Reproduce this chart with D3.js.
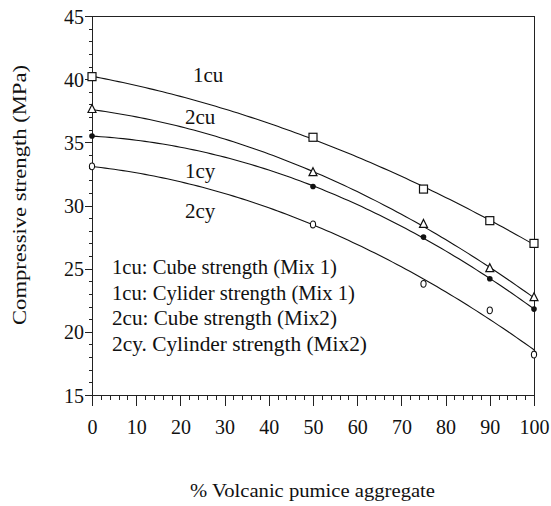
<!DOCTYPE html>
<meta charset="utf-8">
<svg width="551" height="506" style="position:absolute;left:0;top:0"></svg>
<script src="https://cdnjs.cloudflare.com/ajax/libs/d3/7.8.5/d3.min.js"></script>
<script>

// % volcanic pumice aggregate
var pumice = [0, 50, 75, 90, 100];

// compressive strength (MPa)
var cu1 = [40.2, 35.4, 31.3, 28.8, 27.0];
var cu2 = [37.6, 32.6, 28.5, 25.0, 22.7];
var cy1 = [35.5, 31.5, 27.5, 24.2, 21.8];
var cy2 = [33.1, 28.5, 23.8, 21.7, 18.2];

var seriesNames = ["1cu", "2cu", "1cy", "2cy"];
var seriesValues = [cu1, cu2, cy1, cy2];
var seriesMarks = ["square", "triangle", "dot", "circle"];

var xTicks = [0, 10, 20, 30, 40, 50, 60, 70, 80, 90, 100];
var yTicks = [15, 20, 25, 30, 35, 40, 45];

var legendLines = [
  "1cu: Cube strength (Mix 1)",
  "1cu: Cylider strength (Mix 1)",
  "2cu: Cube strength (Mix2)",
  "2cy. Cylinder strength (Mix2)"
];

var svg = d3.select("svg"),
    margin = {top: 16, left: 92},
    width = 534 - margin.left,
    height = 395 - margin.top;

var g = svg.append("g")
    .attr("transform", "translate(" + margin.left + "," + margin.top + ")");

var x = d3.scaleLinear().domain([0, 100]).range([0, width]),
    y = d3.scaleLinear().domain([15, 45]).range([height, 0]);

function serifText(sel, size) {
  sel.attr("font-family", "Liberation Serif")
     .style("font-size", size + "px")
     .style("font-family", "'Liberation Serif'")
     .attr("fill", "#111");
}

function styleAxis(a) {
  a.attr("font-family", null).attr("font-size", null);
  a.selectAll("line, path").attr("stroke", "#222").attr("shape-rendering", "crispEdges");
  a.selectAll("text").call(serifText, 20);
}

// x axis with minor ticks every 2
g.append("g")
    .attr("transform", "translate(0," + height + ")")
    .call(d3.axisBottom(x).tickValues(d3.range(0, 101, 2)).tickSize(5).tickFormat(""))
    .call(function(a) { a.select(".domain").remove(); })
    .call(styleAxis);
g.append("g")
    .attr("transform", "translate(0," + height + ")")
    .call(d3.axisBottom(x).tickValues(xTicks).tickSize(11).tickSizeOuter(0).tickPadding(22))
    .call(styleAxis)
    .selectAll("text")
      .attr("dy", "0.3em");

// y axis with minor ticks every 1
g.append("g")
    .call(d3.axisLeft(y).tickValues(d3.range(15, 46, 1)).tickSize(3).tickFormat(""))
    .call(function(a) { a.select(".domain").remove(); })
    .call(styleAxis);
g.append("g")
    .call(d3.axisLeft(y).tickValues(yTicks).tickSize(7).tickSizeOuter(0).tickPadding(1))
    .call(styleAxis)
    .selectAll("text")
      .attr("dy", "0.35em");

// top and right frame
g.append("path")
    .attr("d", "M0,0H" + width + "V" + height)
    .attr("fill", "none")
    .attr("stroke", "#222")
    .attr("shape-rendering", "crispEdges");

// quadratic least-squares trend line
function quadFit(xs, ys) {
  var s = [0, 0, 0, 0, 0], t = [0, 0, 0];
  xs.forEach(function(xi, i) {
    for (var k = 0; k < 5; k++) s[k] += Math.pow(xi, k);
    for (var k = 0; k < 3; k++) t[k] += ys[i] * Math.pow(xi, k);
  });
  var A = [[s[0], s[1], s[2], t[0]], [s[1], s[2], s[3], t[1]], [s[2], s[3], s[4], t[2]]];
  for (var c = 0; c < 3; c++) {
    for (var r = c + 1; r < 3; r++) {
      var f = A[r][c] / A[c][c];
      for (var k = c; k < 4; k++) A[r][k] -= f * A[c][k];
    }
  }
  var b = [0, 0, 0];
  for (var r = 2; r >= 0; r--) {
    var v = A[r][3];
    for (var k = r + 1; k < 3; k++) v -= A[r][k] * b[k];
    b[r] = v / A[r][r];
  }
  return function(xv) { return b[0] + b[1] * xv + b[2] * xv * xv; };
}

var line = d3.line()
    .x(function(d) { return x(d); });

seriesValues.forEach(function(vals, i) {
  var fn = quadFit(pumice, vals);
  g.append("path")
      .attr("fill", "none")
      .attr("stroke", "#111")
      .attr("stroke-width", 1.1)
      .attr("d", line.y(function(d) { return y(fn(d)); })(d3.range(0, 100.5, 1)));
});

// markers
seriesValues.forEach(function(vals, i) {
  var kind = seriesMarks[i];
  var m = g.append("g").selectAll("g")
    .data(pumice.map(function(p, j) { return [p, vals[j]]; }))
    .enter().append("g")
      .attr("transform", function(d) { return "translate(" + x(d[0]) + "," + y(d[1]) + ")"; });
  if (kind == "square") {
    m.append("rect").attr("x", -4).attr("y", -4).attr("width", 8).attr("height", 8)
      .attr("fill", "#fff").attr("stroke", "#111").attr("stroke-width", 1.2);
  } else if (kind == "triangle") {
    m.append("path").attr("d", "M0,-5L4,3L-4,3Z")
      .attr("fill", "#fff").attr("stroke", "#111").attr("stroke-width", 1.2);
  } else if (kind == "dot") {
    m.append("circle").attr("r", 2.8).attr("fill", "#111");
  } else {
    m.append("ellipse").attr("rx", 2.6).attr("ry", 3.4)
      .attr("fill", "#fff").attr("stroke", "#111").attr("stroke-width", 1.1);
  }
});

// curve labels
var labelPos = [[193, 82], [185, 124], [185, 178], [185, 218]];
svg.selectAll(".clabel")
  .data(seriesNames)
  .enter().append("text")
    .attr("class", "clabel")
    .attr("x", function(d, i) { return labelPos[i][0]; })
    .attr("y", function(d, i) { return labelPos[i][1]; })
    .call(serifText, 21)
    .text(function(d) { return d; });

// legend text
var legendWidths = [225, 243, 225, 255];
svg.selectAll(".legend")
  .data(legendLines)
  .enter().append("text")
    .attr("class", "legend")
    .attr("x", 112)
    .attr("y", function(d, i) { return 274 + i * 25.5; })
    .call(serifText, 21)
    .attr("textLength", function(d, i) { return legendWidths[i]; })
    .attr("lengthAdjust", "spacingAndGlyphs")
    .text(function(d) { return d; });

// axis titles
svg.append("text")
    .attr("transform", "translate(26,195) rotate(-90)")
    .attr("text-anchor", "middle")
    .call(serifText, 19)
    .attr("textLength", 260)
    .attr("lengthAdjust", "spacingAndGlyphs")
    .text("Compressive strength (MPa)");

svg.append("text")
    .attr("x", 190)
    .attr("y", 497)
    .call(serifText, 19)
    .attr("textLength", 245)
    .attr("lengthAdjust", "spacingAndGlyphs")
    .text("% Volcanic pumice aggregate");

</script>
